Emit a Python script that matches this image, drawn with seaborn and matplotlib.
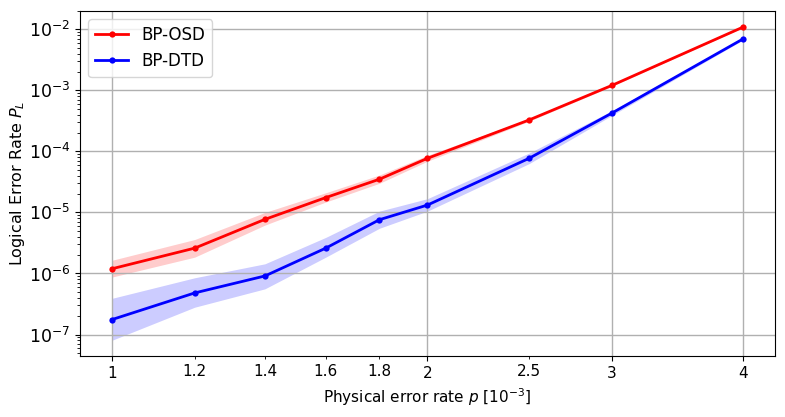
import numpy as np
import pandas as pd
import matplotlib
matplotlib.use('Agg')
import matplotlib.pyplot as plt
import seaborn as sns

# physical error rate in units of 1e-3
p = [1.0, 1.2, 1.4, 1.6, 1.8, 2.0, 2.5, 3.0, 4.0]

osd_mean = [1.19e-6, 2.6e-6, 7.7e-6, 1.75e-5, 3.5e-5, 7.7e-5, 3.27e-4, 1.21e-3, 1.09e-2]
osd_low = [8.7e-7, 1.85e-6, 6.2e-6, 1.48e-5, 3.0e-5, 6.9e-5, 3.12e-4, 1.17e-3, 1.07e-2]
osd_high = [1.64e-6, 3.6e-6, 1.0e-5, 2.1e-5, 4.1e-5, 8.6e-5, 3.42e-4, 1.25e-3, 1.11e-2]

dtd_mean = [1.75e-7, 4.8e-7, 9.1e-7, 2.6e-6, 7.6e-6, 1.32e-5, 7.7e-5, 4.26e-4, 6.98e-3]
dtd_low = [8.0e-8, 2.8e-7, 5.6e-7, 1.85e-6, 5.5e-6, 1.05e-5, 6.3e-5, 3.9e-4, 6.7e-3]
dtd_high = [3.9e-7, 8.5e-7, 1.44e-6, 3.9e-6, 1.05e-5, 1.68e-5, 9.4e-5, 4.65e-4, 7.3e-3]

major_ticks = [1, 2, 3, 4]
minor_ticks = [1.2, 1.4, 1.6, 1.8, 2.5]

df = pd.DataFrame({
    'p': p * 2,
    'PL': osd_mean + dtd_mean,
    'decoder': ['BP-OSD'] * len(p) + ['BP-DTD'] * len(p),
})

fig, ax = plt.subplots(figsize=(7.85, 4.17), dpi=100)

sns.lineplot(data=df, x='p', y='PL', hue='decoder', palette={'BP-OSD': 'red', 'BP-DTD': 'blue'},
             marker='o', markersize=4.5, markeredgewidth=0, linewidth=2, ax=ax)
ax.fill_between(p, osd_low, osd_high, color='red', alpha=0.2, linewidth=0)
ax.fill_between(p, dtd_low, dtd_high, color='blue', alpha=0.2, linewidth=0)

ax.set_xscale('log')
ax.set_yscale('log')
ax.set_xticks(major_ticks)
ax.set_xticklabels([str(t) for t in major_ticks])
ax.set_xticks(minor_ticks, minor=True)
ax.set_xticklabels([str(t) for t in minor_ticks], minor=True)

ax.grid(True, which='major', color='#b0b0b0', linewidth=1)
ax.set_xlabel(r'Physical error rate $p$ [$10^{-3}$]', fontsize=11)
ax.set_ylabel(r'Logical Error Rate $P_L$', fontsize=11.5, labelpad=1)
ax.tick_params(axis='x', which='both', labelsize=11)
ax.tick_params(axis='y', labelsize=12.5)

leg = ax.legend(loc='upper left', fontsize=12)
leg.set_title(None)

plt.subplots_adjust(left=0.102, right=0.987, top=0.974, bottom=0.146)
plt.savefig('out.png', dpi=100)
